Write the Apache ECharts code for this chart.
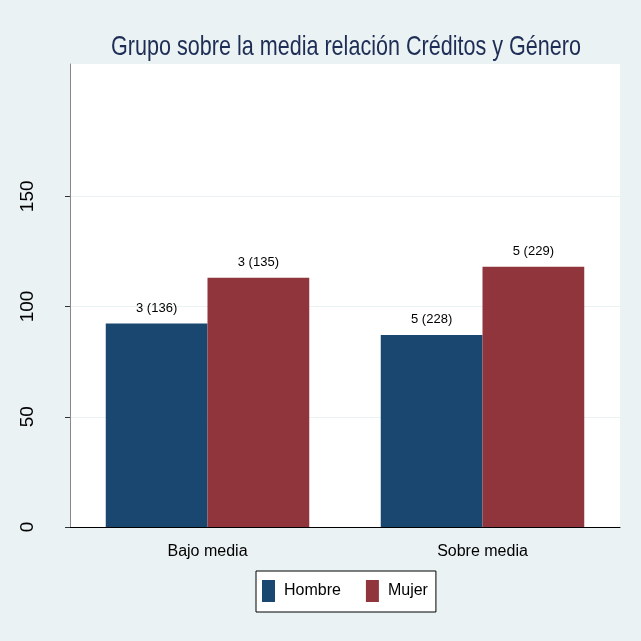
<!DOCTYPE html>
<html>
<head>
<meta charset="utf-8">
<script src="https://cdn.jsdelivr.net/npm/echarts@6/dist/echarts.min.js"></script>
<style>
  html, body { margin: 0; padding: 0; background: #eaf2f3; }
  #chart { width: 641px; height: 641px; }
</style>
</head>
<body>
<div id="chart"></div>
<script>
const categories = ["Bajo media", "Sobre media"];
const hombre = [92.3, 87.1];
const mujer = [113.0, 118.0];
const hombreLabels = ["3 (136)", "5 (228)"];
const mujerLabels = ["3 (135)", "5 (229)"];
const yTicks = [0, 50, 100, 150];
const titleText = "Grupo sobre la media relación Créditos y Género";

const sans = '"Liberation Sans", Arial, sans-serif';

// the title font in the picture is condensed; squeeze a normal one to the same width
const titleFont = "28px " + sans;
const ctx = document.createElement("canvas").getContext("2d");
ctx.font = titleFont;
const titleScale = 470 / ctx.measureText(titleText).width;

const chart = echarts.init(document.getElementById("chart"));

const option = {
  backgroundColor: "#eaf2f3",
  animation: false,
  graphic: [
    {
      type: "text",
      x: 346,
      y: 33,
      scaleX: titleScale,
      style: {
        text: titleText,
        font: titleFont,
        fill: "#1e2d55",
        textAlign: "center",
        textVerticalAlign: "top"
      }
    }
  ],
  grid: { left: 70, right: 21, top: 64, bottom: 114, backgroundColor: "#ffffff", show: true, borderWidth: 0 },
  legend: {
    data: ["Hombre", "Mujer"],
    left: 256,
    top: 571,
    backgroundColor: "#ffffff",
    borderColor: "#000000",
    borderWidth: 1,
    borderRadius: 0,
    padding: [9, 8, 10, 6],
    itemWidth: 13,
    itemHeight: 22,
    itemGap: 25,
    icon: "rect",
    textStyle: { fontFamily: sans, fontSize: 16, color: "#000", padding: [0, 0, 0, 4] }
  },
  xAxis: {
    type: "category",
    data: categories,
    axisLine: { lineStyle: { color: "#000", width: 1 } },
    axisTick: { show: false },
    axisLabel: { fontFamily: sans, fontSize: 16, color: "#000", margin: 17 }
  },
  yAxis: {
    type: "value",
    min: 0,
    max: 210,
    interval: 50,
    axisLine: { show: true, lineStyle: { color: "#888", width: 1 } },
    axisTick: { show: true, length: 5, customValues: yTicks, lineStyle: { color: "#333" } },
    axisLabel: {
      customValues: yTicks,
      rotate: 90,
      fontFamily: sans,
      fontSize: 19,
      color: "#000",
      margin: 33
    },
    splitLine: { show: true, lineStyle: { color: "#eaf2f3", width: 1 } }
  },
  series: [
    {
      name: "Hombre",
      type: "bar",
      data: hombre,
      barWidth: "37%",
      barGap: "0%",
      itemStyle: { color: "#1a476f" },
      label: {
        show: true, position: "top", distance: 9,
        fontFamily: sans, fontSize: 13, color: "#000",
        formatter: (p) => hombreLabels[p.dataIndex]
      }
    },
    {
      name: "Mujer",
      type: "bar",
      data: mujer,
      barWidth: "37%",
      barGap: "0%",
      itemStyle: { color: "#90353b" },
      label: {
        show: true, position: "top", distance: 9,
        fontFamily: sans, fontSize: 13, color: "#000",
        formatter: (p) => mujerLabels[p.dataIndex]
      }
    }
  ]
};

chart.setOption(option);
</script>
</body>
</html>
